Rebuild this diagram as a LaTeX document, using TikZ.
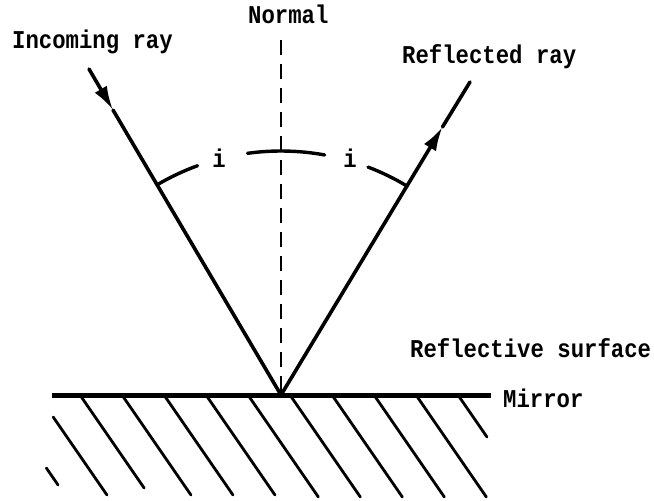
\documentclass[tikz,border=0pt]{standalone}
\usepackage{fontspec}
\setmonofont{Liberation Mono}
\usetikzlibrary{arrows.meta}
\tikzset{
  lbl/.style={inner sep=0pt, anchor=base west, font=\ttfamily\bfseries\fontsize{22.3}{24}\selectfont},
  ray/.style={line width=3.6pt, line cap=round},
  tip/.style={-{Latex[length=24pt,width=14pt]}},
  anglearc/.style={line width=3.4pt, line cap=round},
  hatch/.style={line width=2.8pt, line cap=round},
  mirrorline/.style={line width=5pt},
  normalline/.style={line width=2.4pt, dash pattern=on 15pt off 9pt}
}
\newcommand{\tall}[1]{\scalebox{1}[1.15]{#1}}
\begin{document}
\begin{tikzpicture}[x=1pt,y=-1pt]
\useasboundingbox (0,0) rectangle (654,501);
% key points
\coordinate (O) at (281,395);
\coordinate (A) at (89,69);
\coordinate (Atip) at (113,110);
\coordinate (R) at (470,82);
\coordinate (Rtip) at (442.5,127);
\coordinate (Ntop) at (281,40);
\coordinate (ML) at (52,395);
\coordinate (MR) at (491,395);
% mirror and hatching
\draw[mirrorline] (ML) -- (MR);
\foreach \k/\ya/\yb in {-2/468/485,-1/417/495,0/397/488,1/397/495,2/397/495,3/397/495,4/397/497,5/397/497,6/397/497,7/397/497,8/397/497,9/397/437}{
  \draw[hatch] ({80+42*\k+(\ya-395)/1.45},\ya) -- ({80+42*\k+(\yb-395)/1.45},\yb);
}
% normal
\draw[normalline] (Ntop) -- (O);
% rays
\draw[ray,tip] (A) -- (Atip);
\draw[ray] (Atip) -- (O);
\draw[ray,tip] (O) -- (Rtip);
\draw[ray] (Rtip) -- (R);
% angle arcs
\draw[anglearc] (O) ++(-120.5:244) arc[start angle=-120.5, end angle=-110, radius=244];
\draw[anglearc] (O) ++(-97.9:244) arc[start angle=-97.9, end angle=-79.7, radius=244];
\draw[anglearc] (O) ++(-69.1:244) arc[start angle=-69.1, end angle=-58.9, radius=244];
% labels
\node[lbl] (tin) at (12,48) {\tall{Incoming ray}};
\node[lbl] (tnormal) at (248,23) {\tall{Normal}};
\node[lbl] (tref) at (402,63) {\tall{Reflected ray}};
\node[lbl] (tsurf) at (410,357) {\tall{Reflective surface}};
\node[lbl] (tmirror) at (503,407) {\tall{Mirror}};
\node[lbl, anchor=base] (ti1) at (219,167) {\tall{i}};
\node[lbl, anchor=base] (ti2) at (350,167) {\tall{i}};
\end{tikzpicture}
\end{document}
